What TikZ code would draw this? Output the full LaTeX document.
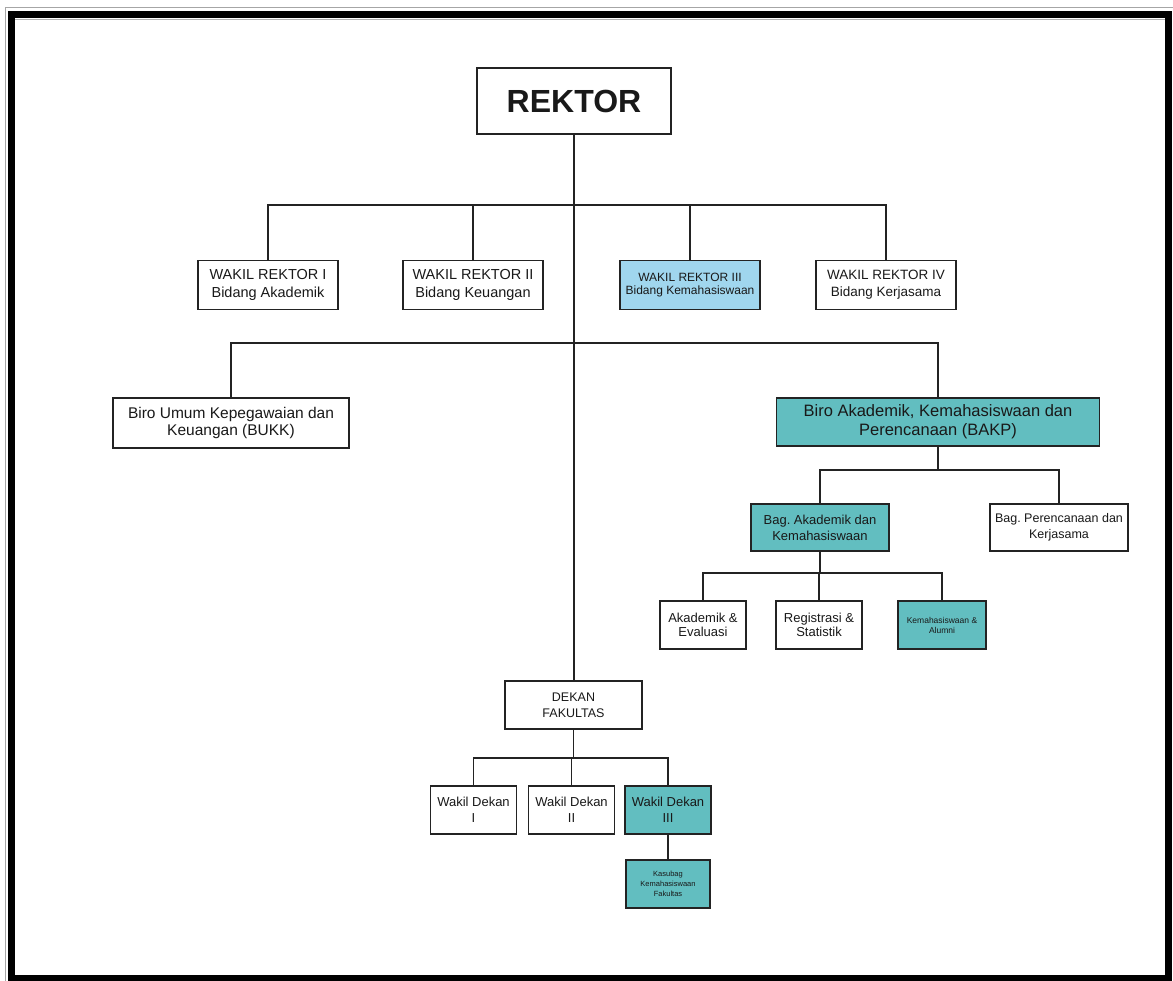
\documentclass[tikz,border=0pt]{standalone}
\usepackage{fontspec}
\setmainfont{Liberation Sans}
\frenchspacing
\definecolor{tealbox}{RGB}{98,190,192}
\definecolor{lblue}{RGB}{160,214,238}
\definecolor{ln}{RGB}{35,35,35}
\definecolor{txt}{RGB}{25,25,25}
\tikzset{
  box/.style={draw=ln, line width=1.7pt, fill=white, rectangle, align=center,
    inner sep=1pt, text=txt},
  conn/.style={draw=ln, line width=1.6pt},
  tealfill/.style={fill=tealbox},
  bluefill/.style={fill=lblue},
}
\begin{document}
\begin{tikzpicture}[x=1pt,y=-1pt]
\useasboundingbox (0,0) rectangle (1173,981);
\fill[white] (0,0) rectangle (1173,981);
% page border
\draw[gray!70, line width=1pt] (5,981) -- (5,7.5) -- (1173,7.5);
\draw[black, line width=7pt] (11.5,985) -- (11.5,14.5) -- (1168.5,14.5) -- (1168.5,978) -- (8,978);
\draw[gray!60, line width=0.8pt] (15,19.5) -- (1165,19.5);

% nodes
\node[box, minimum width=194pt, minimum height=66pt, font=\fontsize{32}{36}\selectfont\bfseries] (rektor) at (574,101) {REKTOR};

\node[box, minimum width=140pt, minimum height=49pt, font=\fontsize{14.5}{17.5}\selectfont] (wr1) at (268,285) {WAKIL REKTOR I\\Bidang Akademik};
\node[box, minimum width=140pt, minimum height=49pt, font=\fontsize{14.5}{17.5}\selectfont] (wr2) at (473,285) {WAKIL REKTOR II\\Bidang Keuangan};
\node[box, bluefill, minimum width=140pt, minimum height=49pt, font=\fontsize{12}{13.5}\selectfont] (wr3) at (690,285) {WAKIL REKTOR III\\Bidang Kemahasiswaan};
\node[box, minimum width=140pt, minimum height=49pt, font=\fontsize{13.5}{17}\selectfont] (wr4) at (886,285) {WAKIL REKTOR IV\\Bidang Kerjasama};

\node[box, minimum width=236pt, minimum height=50pt, font=\fontsize{15.5}{17.5}\selectfont] (bukk) at (231,423) {Biro Umum Kepegawaian dan\\Keuangan (BUKK)};
\node[box, tealfill, minimum width=323pt, minimum height=48pt, font=\fontsize{16.5}{19}\selectfont] (bakp) at (938,422) {Biro Akademik, Kemahasiswaan dan\\Perencanaan (BAKP)};

\node[box, tealfill, minimum width=138pt, minimum height=47pt, font=\fontsize{13}{16}\selectfont] (bagak) at (820,527.5) {Bag. Akademik dan\\Kemahasiswaan};
\node[box, minimum width=138pt, minimum height=47pt, font=\fontsize{12.5}{16}\selectfont] (bagper) at (1059,527.5) {Bag. Perencanaan dan\\Kerjasama};

\node[box, minimum width=86pt, minimum height=48pt, font=\fontsize{13}{14}\selectfont] (akev) at (703,625) {Akademik \&\\Evaluasi};
\node[box, minimum width=86pt, minimum height=48pt, font=\fontsize{13}{14}\selectfont] (regstat) at (819,625) {Registrasi \&\\Statistik};
\node[box, tealfill, minimum width=88pt, minimum height=48pt, font=\fontsize{8.5}{10}\selectfont] (kemal) at (942,625) {Kemahasiswaan \&\\Alumni};

\node[box, minimum width=137pt, minimum height=48pt, font=\fontsize{12.5}{16}\selectfont] (dekan) at (573.5,705) {DEKAN\\FAKULTAS};

\node[box, minimum width=86pt, minimum height=48pt, font=\fontsize{13}{16}\selectfont] (wd1) at (473.5,810) {Wakil Dekan\\I};
\node[box, minimum width=86pt, minimum height=48pt, font=\fontsize{13}{16}\selectfont] (wd2) at (571.5,810) {Wakil Dekan\\II};
\node[box, tealfill, minimum width=86pt, minimum height=48pt, font=\fontsize{13}{16}\selectfont] (wd3) at (668,810) {Wakil Dekan\\III};
\node[box, tealfill, minimum width=84pt, minimum height=48pt, font=\fontsize{7.5}{10}\selectfont] (kasubag) at (668,884) {Kasubag\\Kemahasiswaan\\Fakultas};

% bar levels
\coordinate (b1) at (0,205);
\coordinate (b2) at (0,343);
\coordinate (b3) at (0,470);
\coordinate (b4) at (0,573);
\coordinate (b5) at (0,758);

% connectors
\draw[conn] (rektor.south) -- (rektor.south |- dekan.north);
\draw[conn] (wr1.north) -- (wr1.north |- b1) -- (wr4.north |- b1) -- (wr4.north);
\draw[conn] (wr2.north) -- (wr2.north |- b1);
\draw[conn] (wr3.north) -- (wr3.north |- b1);
\draw[conn] (bukk.north) -- (bukk.north |- b2) -- (bakp.north |- b2) -- (bakp.north);
\draw[conn] (bakp.south) -- (bakp.south |- b3);
\draw[conn] (bagak.north) -- (bagak.north |- b3) -- (bagper.north |- b3) -- (bagper.north);
\draw[conn] (bagak.south) -- (bagak.south |- b4);
\draw[conn] (akev.north) -- (akev.north |- b4) -- (kemal.north |- b4) -- (kemal.north);
\draw[conn] (regstat.north) -- (regstat.north |- b4);
\draw[conn] (dekan.south) -- (dekan.south |- b5);
\draw[conn] (wd1.north) -- (wd1.north |- b5) -- (wd3.north |- b5) -- (wd3.north);
\draw[conn] (wd2.north) -- (wd2.north |- b5);
\draw[conn] (wd3.south) -- (kasubag.north);
\end{tikzpicture}
\end{document}
